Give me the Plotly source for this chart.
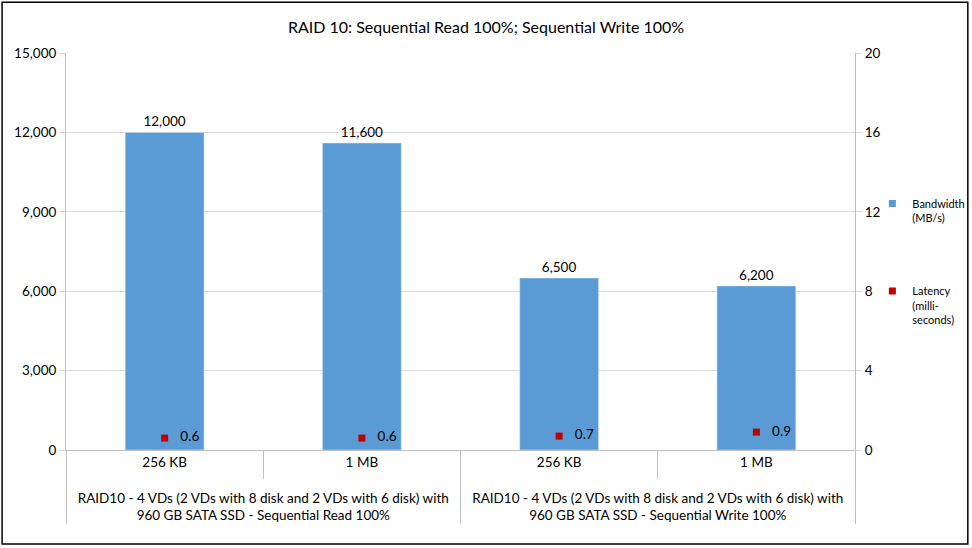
import plotly.graph_objects as go

# Chart data
groups = [
    "RAID10 - 4 VDs (2 VDs with 8 disk and 2 VDs with 6 disk) with<br>960 GB SATA SSD - Sequential Read 100%",
    "RAID10 - 4 VDs (2 VDs with 8 disk and 2 VDs with 6 disk) with<br>960 GB SATA SSD - Sequential Write 100%",
]
block_sizes = ["256 KB", "1 MB"]
bandwidth = [12000, 11600, 6500, 6200]
latency = [0.6, 0.6, 0.7, 0.9]

x_outer = [g for g in groups for _ in block_sizes]
# blank second line pushes the group labels further down, like the original
x_inner = [b + "<br> " for b in block_sizes] * len(groups)

font = "Lato, 'Open Sans', sans-serif"
blue = "#5B9BD5"
red = "#C00000"

fig = go.Figure()
fig.add_trace(go.Bar(
    x=[x_outer, x_inner], y=bandwidth, name="Bandwidth",
    marker_color=blue, texttemplate="%{y:,}", textposition="outside",
    textfont=dict(size=13.5, color="#000"), cliponaxis=False,
    showlegend=False,
))
fig.add_trace(go.Scatter(
    x=[x_outer, x_inner], y=latency, yaxis="y2", mode="markers+text",
    name="Latency<br>(milli-<br>seconds)", texttemplate="   %{y}",
    textposition="middle right", textfont=dict(size=13.5, color="#000"),
    marker=dict(symbol="square", size=7, color=red),
    legendgroup="lat", legendrank=2,
))
# legend entry for the bars with a small square, as in the original
fig.add_trace(go.Scatter(
    x=[None], y=[None], mode="markers", name="Bandwidth<br>(MB/s)",
    marker=dict(symbol="square", size=7, color=blue),
    legendgroup="bw", legendrank=1,
))

fig.update_layout(
    width=972, height=548,
    margin=dict(l=66, r=117, t=53, b=98, autoexpand=False),
    paper_bgcolor="white", plot_bgcolor="white",
    font=dict(family=font, size=13.5, color="#000"),
    title=dict(text="RAID 10: Sequential Read 100%; Sequential Write 100%",
               x=0.5, xanchor="center", y=0.95, yanchor="middle",
               font=dict(size=16)),
    bargap=0.6,
    showlegend=True,
    legend=dict(x=1.022, y=0.474, xanchor="left", yanchor="middle",
                bgcolor="rgba(0,0,0,0)", valign="top",
                font=dict(size=11), tracegroupgap=56, itemwidth=30,
                traceorder="grouped"),
    xaxis=dict(type="multicategory", showline=True, linecolor="#BFBFBF",
               ticks="outside", tickson="boundaries", ticklen=28,
               tickcolor="#BFBFBF", showdividers=True,
               dividercolor="#BFBFBF", dividerwidth=1,
               tickfont=dict(size=13.5)),
    yaxis=dict(range=[0, 15000], dtick=3000, tickformat=",",
               showgrid=True, gridcolor="#D9D9D9", showline=True,
               linecolor="#BFBFBF", ticks="outside", ticklen=6,
               tickcolor="#D9D9D9", zeroline=False, tickfont=dict(size=13.5)),
    yaxis2=dict(range=[0, 20], dtick=4, overlaying="y", side="right",
                showgrid=False, showline=True, linecolor="#BFBFBF",
                ticks="outside", ticklen=6, tickcolor="#D9D9D9",
                zeroline=False, tickfont=dict(size=13.5)),
    shapes=[dict(type="rect", xref="paper", yref="paper",
                 x0=-0.081, x1=1.143, y0=-0.237, y1=1.128,
                 line=dict(color="#000", width=1.5))],
)

fig.write_html("out.html", config={"displayModeBar": False},
               post_script="document.body.style.margin='0';")
